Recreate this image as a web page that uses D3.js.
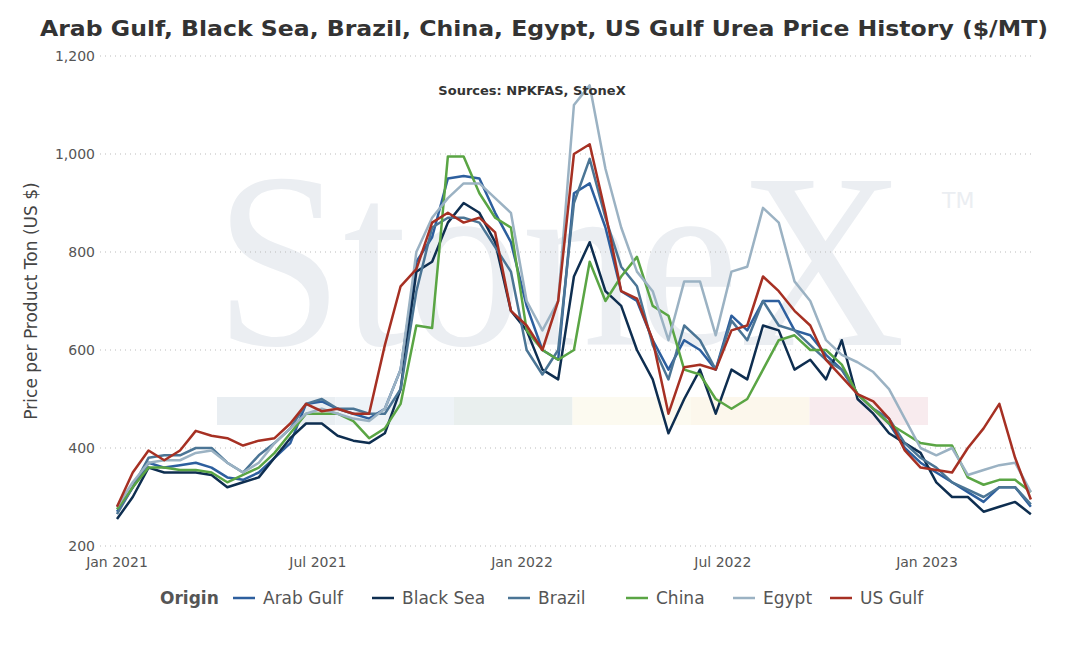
<!DOCTYPE html>
<html><head><meta charset="utf-8">
<script src="https://cdn.jsdelivr.net/npm/d3@7"></script>
<style>body{margin:0;background:#fff}text{font-family:Verdana,"DejaVu Sans",sans-serif}</style>
</head><body><svg width="1067" height="652"></svg>
<script>
// roughly biweekly samples from 2021-01-01
var start = new Date(2021,0,1);
var stepDays = 14.2;
var arabGulf = [270,320,370,360,365,370,360,340,335,350,380,410,490,495,480,470,460,480,560,780,830,950,955,950,880,820,690,600,580,920,940,850,720,700,620,560,620,600,560,670,640,700,700,640,630,590,560,510,480,450,400,370,350,330,310,290,320,320,280];
var blackSea = [255,300,360,350,350,350,345,320,330,340,380,420,450,450,425,415,410,430,520,760,780,860,900,880,820,680,640,560,540,750,820,720,690,600,540,430,500,560,470,560,540,650,640,560,580,540,620,500,470,430,410,390,330,300,300,270,280,290,265];
var brazil = [265,320,380,385,385,400,400,370,350,385,410,440,490,500,480,480,470,470,520,720,850,870,870,860,810,760,600,550,600,900,990,870,770,730,610,540,650,620,560,660,620,700,650,640,610,580,560,510,480,460,410,380,360,330,315,300,320,320,285];
var china = [275,320,360,360,355,355,350,330,345,360,390,430,470,470,470,455,420,440,490,650,645,995,995,920,870,850,640,600,580,600,780,700,750,790,690,670,560,550,500,480,500,560,620,630,600,600,570,510,480,450,430,410,405,405,340,325,335,335,310];
var egypt = [280,330,370,375,375,390,395,370,350,370,410,440,470,480,470,460,455,480,560,800,870,910,940,940,910,880,700,640,700,1100,1140,970,850,760,720,620,740,740,630,760,770,890,860,740,700,620,590,575,555,520,460,400,385,400,345,355,365,370,310];
var usGulf = [280,350,395,375,395,435,425,420,405,415,420,450,490,475,480,470,470,610,730,765,860,880,860,870,840,680,650,600,700,1000,1020,880,720,705,620,470,565,570,560,640,650,750,720,680,650,580,545,510,495,460,395,360,355,350,400,440,490,380,295];
var seriesNames = ["Arab Gulf","Black Sea","Brazil","China","Egypt","US Gulf"];
var seriesColors = ["#2d5f9e","#0e2e50","#4b7595","#5aa544","#9bb2c3","#a63023"];
var seriesData = [arabGulf,blackSea,brazil,china,egypt,usGulf];
var yTicks = [200,400,600,800,1000,1200];
var xTicks = [new Date(2021,0,1),new Date(2021,6,1),new Date(2022,0,1),new Date(2022,6,1),new Date(2023,0,1)];

var svg = d3.select("svg");
var x = d3.scaleTime().domain([new Date(2021,0,1),new Date(2023,0,1)]).range([117,927]);
var y = d3.scaleLinear().domain([200,1200]).range([546,56]);
function dateAt(i){return new Date(start.getTime()+i*stepDays*864e5);}

// watermark
var bandCols=["#e9eef2","#eef3f7","#e9efee","#fcfaf0","#fcf7ec","#f8ebee"];
bandCols.forEach(function(c,i){svg.append("rect").attr("x",217+i*118.5).attr("y",397).attr("width",118.5).attr("height",28).attr("fill",c);});
svg.append("text").attr("x",215).attr("y",345).attr("textLength",690).attr("lengthAdjust","spacingAndGlyphs")
 .style("font-family","'Liberation Serif','DejaVu Serif',serif").style("font-size","250px").attr("fill","#ebeef2").text("StoneX");
svg.append("text").attr("x",942).attr("y",208).style("font-size","22px").attr("fill","#ebeef2").text("TM");

// grid
svg.append("g").selectAll("line").data(yTicks).enter().append("line")
 .attr("x1",100).attr("x2",1035).attr("y1",function(d){return y(d);}).attr("y2",function(d){return y(d);})
 .attr("stroke","#bbb").attr("stroke-dasharray","1,4");
svg.append("g").selectAll("text").data(yTicks).enter().append("text")
 .attr("x",95).attr("y",function(d){return y(d)+5;}).attr("text-anchor","end").style("font-size","14px").attr("fill","#555")
 .text(function(d){return d3.format(",")(d);});
svg.append("g").selectAll("text").data(xTicks).enter().append("text")
 .attr("x",function(d){return x(d);}).attr("y",567).attr("text-anchor","middle").style("font-size","14px").attr("fill","#555")
 .text(d3.timeFormat("%b %Y"));
svg.append("text").attr("transform","translate(37,301) rotate(-90)").attr("text-anchor","middle").style("font-size","17px").attr("fill","#444").text("Price per Product Ton (US $)");

var line = d3.line().x(function(d,i){return x(dateAt(i));}).y(function(d){return y(d);});
seriesData.forEach(function(s,k){
 svg.append("path").attr("d",line(s)).attr("fill","none").attr("stroke",seriesColors[k]).attr("stroke-width",2.5).attr("stroke-linejoin","round");
});

svg.append("text").attr("x",544).attr("y",36).attr("text-anchor","middle").style("font-size","22px").style("font-weight","bold").attr("fill","#333")
 .attr("textLength",1008).attr("lengthAdjust","spacingAndGlyphs")
 .text("Arab Gulf, Black Sea, Brazil, China, Egypt, US Gulf Urea Price History ($/MT)");
svg.append("text").attr("x",532).attr("y",95).attr("text-anchor","middle").style("font-size","13px").style("font-weight","bold").attr("fill","#333")
 .text("Sources: NPKFAS, StoneX");

// legend
var lg = svg.append("g");
lg.append("text").attr("x",160).attr("y",604).style("font-size","17px").style("font-weight","bold").attr("fill","#555").text("Origin");
var lx=[233,372,508,626,733,830];
seriesNames.forEach(function(n,k){
 lg.append("line").attr("x1",lx[k]).attr("x2",lx[k]+22).attr("y1",598).attr("y2",598).attr("stroke",seriesColors[k]).attr("stroke-width",2.5);
 lg.append("text").attr("x",lx[k]+30).attr("y",604).style("font-size","17px").attr("fill","#555").text(n);
});
</script></body></html>
